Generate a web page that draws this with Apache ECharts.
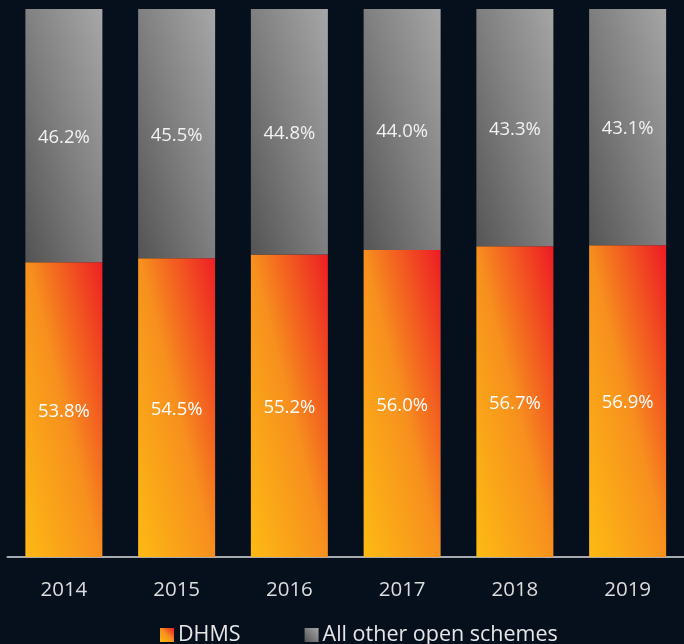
<!DOCTYPE html>
<html><head><meta charset="utf-8">
<script src="https://cdn.jsdelivr.net/npm/echarts@6/dist/echarts.min.js"></script>
<style>html,body{margin:0;padding:0;background:#06101d;}#c{width:684px;height:644px;}</style>
</head><body><div id="c"></div>
<script>
const years = ['2014','2015','2016','2017','2018','2019'];
const dhms = [53.8, 54.5, 55.2, 56.0, 56.7, 56.9];
const others = [46.2, 45.5, 44.8, 44.0, 43.3, 43.1];

const orangeGrad = new echarts.graphic.LinearGradient(-0.44, 0.56, 1.44, 0.44, [
  {offset: 0, color: '#fdba13'},
  {offset: 0.5, color: '#f7901e'},
  {offset: 1, color: '#ed1c24'}
]);
const grayGrad = new echarts.graphic.LinearGradient(-0.41, 0.59, 1.41, 0.41, [
  {offset: 0, color: '#545454'},
  {offset: 0.5, color: '#7f7f7f'},
  {offset: 1, color: '#a6a6a6'}
]);
const legendOrange = new echarts.graphic.LinearGradient(0, 1, 1, 0, [
  {offset: 0, color: '#fdba13'}, {offset: 0.5, color: '#f7901e'}, {offset: 1, color: '#ed1c24'}
]);
const legendGray = new echarts.graphic.LinearGradient(0, 1, 1, 0, [
  {offset: 0, color: '#545454'}, {offset: 1, color: '#a6a6a6'}
]);
const font = '"Open Sans", "Noto Sans", sans-serif';
const chart = echarts.init(document.getElementById('c'));
chart.setOption({
  backgroundColor: '#06101d',
  animation: false,
  grid: {left: 7.5, top: 9, width: 683, height: 548, containLabel: false},
  legend: {
    top: 619, left: 155, itemWidth: 14, itemHeight: 14, itemGap: 64,
    icon: 'rect',
    textStyle: {color: '#e6e6e6', fontSize: 21.5, fontFamily: font, padding: [0,0,0,-1]},
    data: [
      {name: 'DHMS', itemStyle: {color: legendOrange}},
      {name: 'All other open schemes', itemStyle: {color: legendGray}}
    ]
  },
  xAxis: {
    type: 'category', data: years,
    axisLine: {lineStyle: {color: '#a7abb0', width: 2}},
    axisTick: {show: false},
    axisLabel: {color: '#dcdcdc', fontSize: 20.5, fontFamily: font, margin: 23}
  },
  yAxis: {type: 'value', min: 0, max: 100, show: false, splitLine: {show: false}},
  series: [
    {
      name: 'DHMS', type: 'bar', stack: 's', data: dhms, barWidth: 77,
      itemStyle: {color: orangeGrad},
      label: {show: true, position: 'inside', formatter: p => p.value.toFixed(1) + '%',
        color: '#ffffff', fontSize: 18.5, fontFamily: font, offset: [0, 2]}
    },
    {
      name: 'All other open schemes', type: 'bar', stack: 's', data: others, barWidth: 77,
      itemStyle: {color: grayGrad},
      label: {show: true, position: 'inside', formatter: p => p.value.toFixed(1) + '%',
        color: '#f2f2f2', fontSize: 18.5, fontFamily: font, offset: [0, 2]}
    }
  ]
});
</script></body></html>
